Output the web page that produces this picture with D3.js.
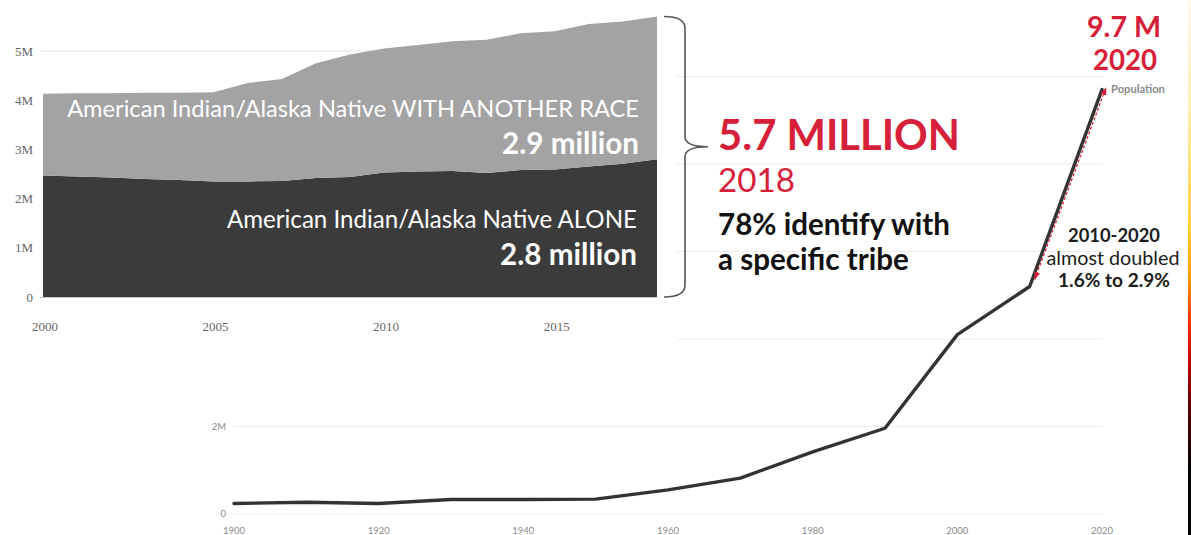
<!DOCTYPE html>
<html>
<head>
<meta charset="utf-8">
<script src="https://cdn.jsdelivr.net/npm/d3@7"></script>
<style>
  html, body { margin: 0; padding: 0; background: #fff; overflow: hidden; }
  svg { display: block; }
</style>
</head>
<body>
<svg id="chart" width="1191" height="535"></svg>
<script>
// ---- AIAN population 2000-2018 (millions), stacked ----
const trendYears = [2000, 2001, 2002, 2003, 2004, 2005, 2006, 2007, 2008, 2009,
                    2010, 2011, 2012, 2013, 2014, 2015, 2016, 2017, 2018];
const aloneMillions = [2.47, 2.45, 2.43, 2.40, 2.38, 2.35, 2.35, 2.36, 2.42, 2.44,
                       2.53, 2.55, 2.56, 2.52, 2.58, 2.59, 2.65, 2.71, 2.80];
const withAnotherMillions = [1.66, 1.69, 1.71, 1.75, 1.77, 1.81, 2.00, 2.07, 2.33, 2.49,
                             2.52, 2.57, 2.64, 2.71, 2.78, 2.81, 2.90, 2.89, 2.90];
const trendTicksX = [2000, 2005, 2010, 2015];
const trendTicksY = [0, 1, 2, 3, 4, 5];

// ---- Census population 1900-2020 (millions) ----
const censusYears = [1900, 1910, 1920, 1930, 1940, 1950, 1960, 1970, 1980, 1990, 2000, 2010, 2020];
const censusMillions = [0.24, 0.27, 0.24, 0.33, 0.33, 0.34, 0.55, 0.82, 1.42, 1.96, 4.1, 5.2, 9.7];
const censusTicksX = [1900, 1920, 1940, 1960, 1980, 2000, 2020];
const censusGridY = [0, 2, 4, 6, 8, 10];
const censusLabelY = [0, 2];

const RED = "#d6203a";
const FONT = "Lato, 'Open Sans', sans-serif";
const svg = d3.select("#chart");

// scale an element's font size so that it spans the given width
function fitWidth(sel, width) {
  const base = parseFloat(sel.style("font-size"));
  const w = sel.node().getComputedTextLength();
  sel.style("font-size", (base * width / w).toFixed(2) + "px");
  return sel;
}
function label(g, txt, x, y, opts) {
  const t = g.append("text")
    .attr("x", x).attr("y", y)
    .attr("text-anchor", opts.anchor || "start")
    .style("font-family", opts.family || FONT)
    .style("font-weight", opts.weight || 400)
    .style("font-size", (opts.size || 20) + "px")
    .attr("fill", opts.fill || "#000")
    .text(txt);
  if (opts.width) fitWidth(t, opts.width);
  return t;
}
// a multi-line block: lines = [{text, dy, weight, size, width?, x?}]
function block(g, x, y, opts, lines) {
  const t = g.append("text")
    .attr("x", x).attr("y", y)
    .attr("text-anchor", opts.anchor || "start")
    .style("font-family", FONT)
    .style("font-size", (opts.size || 20) + "px")
    .attr("fill", opts.fill || "#000");
  lines.forEach(ln => {
    const s = t.append("tspan")
      .attr("x", ln.x != null ? ln.x : x)
      .attr("y", y + (ln.dy || 0))
      .style("font-weight", ln.weight || 400)
      .style("font-size", (ln.size || opts.size || 20) + "px")
      .text(ln.text);
    if (ln.width) fitWidth(s, ln.width);
  });
  return t;
}

// ================= Census line chart (background) =================
const xC = d3.scaleLinear().domain([1900, 2020]).range([234, 1102]);
const yC = d3.scaleLinear().domain([0, 10]).range([514, 76.5]);
const census = svg.append("g");

census.selectAll("line.grid").data(censusGridY).join("line")
  .attr("class", "grid")
  .attr("x1", 233).attr("x2", 1103)
  .attr("y1", d => yC(d)).attr("y2", d => yC(d))
  .attr("stroke", "#ececec").attr("stroke-width", 1.2);

census.selectAll("text.ylab").data(censusLabelY).join("text")
  .attr("class", "ylab")
  .attr("x", 226).attr("y", d => yC(d)).attr("dy", "0.35em")
  .attr("text-anchor", "end")
  .style("font-family", FONT).style("font-size", "9.5px")
  .attr("fill", "#8a8a8a")
  .text(d => d === 0 ? "0" : d + "M");

census.selectAll("text.xlab").data(censusTicksX).join("text")
  .attr("class", "xlab")
  .attr("x", d => xC(d)).attr("y", 534)
  .attr("text-anchor", "middle")
  .style("font-family", FONT).style("font-size", "9.5px")
  .attr("fill", "#8a8a8a")
  .text(d => d);

census.append("path")
  .datum(censusYears.map((y, i) => [y, censusMillions[i]]))
  .attr("fill", "none").attr("stroke", "#333").attr("stroke-width", 3.4)
  .attr("stroke-linejoin", "round").attr("stroke-linecap", "round")
  .attr("d", d3.line().x(d => xC(d[0])).y(d => yC(d[1])));

label(census, "Population", xC(2020) + 9, yC(9.7) + 3.5,
      { weight: 700, size: 8.5, fill: "#8a8a8a", width: 54 });

// ================= Stacked area panel (foreground) =================
svg.append("rect").attr("x", 0).attr("y", 0).attr("width", 677).attr("height", 345).attr("fill", "#fff");

const xT = d3.scaleLinear().domain([2000, 2018]).range([43, 657]);
const yT = d3.scaleLinear().domain([0, 5]).range([297, 51]);
const trend = svg.append("g");

const rows = trendYears.map((yr, i) => ({ year: yr, alone: aloneMillions[i], another: withAnotherMillions[i] }));
const stacked = d3.stack().keys(["alone", "another"])(rows);
const fills = { alone: "#3b3b3b", another: "#a3a3a3" };

trend.append("line")
  .attr("x1", 41).attr("x2", 657).attr("y1", yT(5)).attr("y2", yT(5))
  .attr("stroke", "#e2e2e2").attr("stroke-width", 1);

const area = d3.area().x(d => xT(d.data.year)).y0(d => yT(d[0])).y1(d => yT(d[1]));
trend.selectAll("path.layer").data(stacked).join("path")
  .attr("class", "layer")
  .attr("fill", d => fills[d.key])
  .attr("d", area);

trend.append("line")
  .attr("x1", 40).attr("x2", 657).attr("y1", yT(0) + 0.5).attr("y2", yT(0) + 0.5)
  .attr("stroke", "#c4c4c4").attr("stroke-width", 1.2);

trend.selectAll("text.ylab").data(trendTicksY).join("text")
  .attr("class", "ylab")
  .attr("x", 33).attr("y", d => yT(d)).attr("dy", "0.35em")
  .attr("text-anchor", "end")
  .style("font-family", "'Liberation Serif', 'DejaVu Serif', serif").style("font-size", "13px")
  .attr("fill", "#666")
  .text(d => d === 0 ? "0" : d + "M");

trend.selectAll("text.xlab").data(trendTicksX).join("text")
  .attr("class", "xlab")
  .attr("x", d => xT(d) + 2).attr("y", 331)
  .attr("text-anchor", "middle")
  .style("font-family", "'Liberation Serif', 'DejaVu Serif', serif").style("font-size", "13px")
  .attr("fill", "#666")
  .text(d => d);

// in-area labels
block(trend, 639, 117, { anchor: "end", fill: "#fff" }, [
  { text: "American Indian/Alaska Native WITH ANOTHER RACE", size: 22, width: 572 },
  { text: "2.9 million", dy: 37, weight: 700, size: 28, width: 137 }
]);
block(trend, 637, 228, { anchor: "end", fill: "#fff" }, [
  { text: "American Indian/Alaska Native ALONE", size: 22, width: 410 },
  { text: "2.8 million", dy: 37, weight: 700, size: 28, width: 137 }
]);

// curly brace spanning the 2018 total
const last = rows[rows.length - 1];
const bTop = yT(last.alone + last.another), bBot = yT(0);
const bMid = (bTop + bBot) / 2 - 10;
const bx = 685, bl = 664, bt = 708;
svg.append("path")
  .attr("fill", "none").attr("stroke", "#555").attr("stroke-width", 1.6)
  .attr("d", `M${bl},${bTop} Q${bx},${bTop} ${bx},${bTop + 12}
              L${bx},${bMid - 10} Q${bx},${bMid} ${bt},${bMid}
              Q${bx},${bMid} ${bx},${bMid + 10}
              L${bx},${bBot - 12} Q${bx},${bBot} ${bl},${bBot}`);

// ================= Annotations =================
const notes = svg.append("g");
block(notes, 718, 150, { fill: RED }, [
  { text: "5.7 MILLION", weight: 700, size: 40, width: 242 },
  { text: "2018", dy: 42, size: 32, width: 77 }
]);
block(notes, 718, 235, { fill: "#111" }, [
  { text: "78% identify with", weight: 700, size: 26, width: 232 },
  { text: "a specific tribe", dy: 35, weight: 700, size: 26, width: 191 }
]);

block(notes, 1124, 37, { anchor: "middle", fill: RED }, [
  { text: "9.7 M", weight: 700, size: 24, width: 74 },
  { text: "2020", x: 1125, dy: 33, weight: 700, size: 24, width: 64 }
]);

block(notes, 1114, 242, { anchor: "middle", fill: "#1c1c1c" }, [
  { text: "2010-2020", weight: 700, size: 16, width: 92 },
  { text: "almost doubled", x: 1113, dy: 23, size: 16, width: 133 },
  { text: "1.6% to 2.9%", dy: 45, weight: 700, size: 16, width: 112 }
]);

// dashed double-headed arrow alongside the 2010-2020 segment
const defs = svg.append("defs");
defs.append("marker")
  .attr("id", "head").attr("viewBox", "0 0 8 6")
  .attr("refX", 7.5).attr("refY", 3)
  .attr("markerWidth", 8).attr("markerHeight", 6)
  .attr("markerUnits", "userSpaceOnUse")
  .attr("orient", "auto-start-reverse")
  .append("path").attr("d", "M0,0 L8,3 L0,6 Z").attr("fill", RED);

notes.append("line")
  .attr("x1", xC(2010) + 5).attr("y1", yC(5.2) - 7)
  .attr("x2", xC(2020) + 4).attr("y2", yC(9.7) - 2)
  .attr("stroke", RED).attr("stroke-width", 1.2).attr("stroke-dasharray", "3 2")
  .attr("marker-start", "url(#head)").attr("marker-end", "url(#head)");

// slide-edge colour band
const grad = defs.append("linearGradient").attr("id", "edge")
  .attr("x1", 0).attr("y1", 0).attr("x2", 0).attr("y2", 1);
[[0, "#fff8ea"], [0.2, "#ffeeb8"], [0.42, "#ffd23c"], [0.52, "#ff9a00"],
 [0.6, "#ff3000"], [0.68, "#c00000"], [0.77, "#500000"], [0.88, "#000"], [1, "#000"]]
  .forEach(([o, c]) => grad.append("stop").attr("offset", o).attr("stop-color", c));
svg.append("rect").attr("x", 1188).attr("y", 0).attr("width", 3).attr("height", 535)
  .attr("fill", "url(#edge)");
</script>
</body>
</html>
